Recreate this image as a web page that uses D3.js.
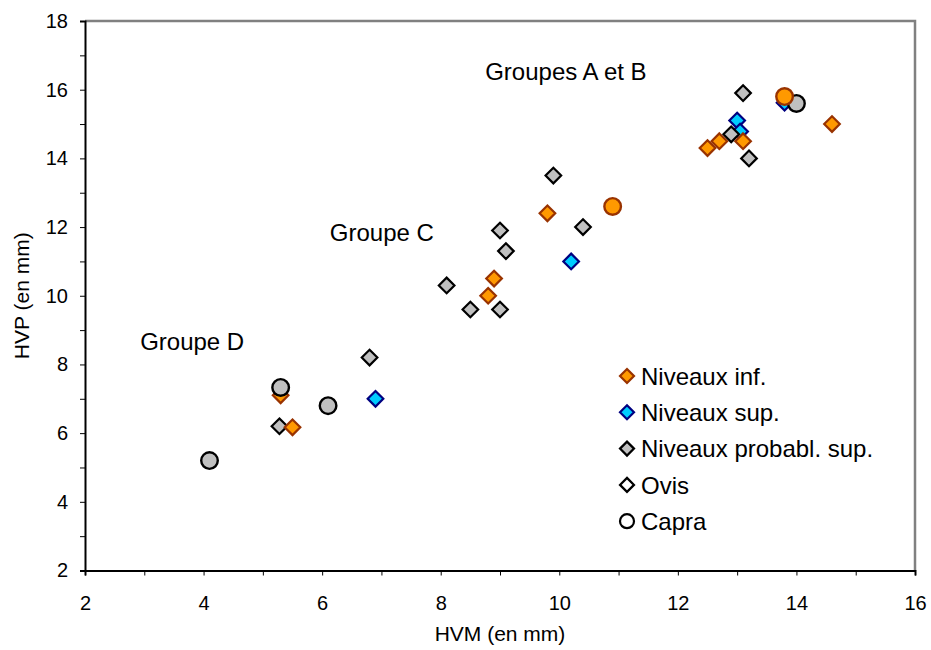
<!DOCTYPE html>
<html>
<head>
<meta charset="utf-8">
<script src="https://d3js.org/d3.v7.min.js"></script>
<style>
  body { margin: 0; background: #fff; }
  svg { font-family: "Liberation Sans", Arial, sans-serif; }
</style>
</head>
<body>
<svg id="chart" width="931" height="650"></svg>
<script>
// ---- Data (HVM = x, HVP = y, in mm) ----
const supHVM  = [6.9, 10.2, 13.0, 13.05, 13.8];
const supHVP  = [7.0, 11.0, 15.1, 14.78, 15.62];

const probHVM = [5.28, 6.8, 8.1, 8.5, 9.0, 9.0, 9.1, 9.9, 10.4, 12.9, 13.1, 13.2];
const probHVP = [6.2, 8.2, 10.3, 9.6, 9.6, 11.9, 11.3, 13.5, 12.0, 14.7, 15.9, 14.0];

const infHVM  = [5.3, 5.5, 8.8, 8.9, 9.8, 12.5, 12.7, 13.1, 14.6];
const infHVP  = [7.1, 6.17, 10.0, 10.5, 12.4, 14.3, 14.5, 14.5, 15.0];

const capraProbHVM = [4.1, 5.3, 6.1, 14.0];
const capraProbHVP = [5.2, 7.33, 6.8, 15.6];

const capraInfHVM = [10.9, 13.8];
const capraInfHVP = [12.6, 15.8];

const xTicks = [2, 4, 6, 8, 10, 12, 14, 16];
const yTicks = [2, 4, 6, 8, 10, 12, 14, 16, 18];

const legendLabels = ["Niveaux inf.", "Niveaux sup.", "Niveaux probabl. sup.", "Ovis", "Capra"];

const annotations = [
  {text: "Groupes A et B", x: 8.75, y: 16.28},
  {text: "Groupe C", x: 6.13, y: 11.6},
  {text: "Groupe D", x: 2.93, y: 8.42}
];

// ---- Styles ----
const styles = {
  inf:  {fill: "#FF9900", stroke: "#993300"},
  sup:  {fill: "#00CCFF", stroke: "#000080"},
  prob: {fill: "#C0C0C0", stroke: "#000000"},
  open: {fill: "#FFFFFF", stroke: "#000000"}
};

const svg = d3.select("#chart");
const L = 85, R = 915, T = 21, B = 570.5;

const x = d3.scaleLinear().domain([2, 16]).range([L, R]);
const y = d3.scaleLinear().domain([2, 18]).range([B, T]);

// frame (top/right grey)
svg.append("path")
  .attr("d", `M${L},${T}H${R}V${B}`)
  .attr("fill", "none").attr("stroke", "#808080").attr("stroke-width", 2.5);

// axes
const xAxis = d3.axisBottom(x).tickValues(d3.range(2, 17, 1)).tickSize(5).tickPadding(20)
  .tickFormat(d => xTicks.includes(d) ? d : "");
const yAxis = d3.axisLeft(y).tickValues(d3.range(2, 19, 1)).tickSize(5).tickPadding(12)
  .tickFormat(d => yTicks.includes(d) ? d : "");

const gx = svg.append("g").attr("transform", `translate(0,${B})`).call(xAxis);
const gy = svg.append("g").attr("transform", `translate(${L},0)`).call(yAxis);
[gx, gy].forEach(g => {
  g.select(".domain").attr("stroke", "#000").attr("stroke-width", 2);
  g.selectAll(".tick line").attr("stroke", "#000").attr("stroke-width", 1);
  g.selectAll("text").attr("font-size", 20).attr("fill", "#000")
    .attr("font-family", "Liberation Sans, Arial, sans-serif");
});

// axis titles
svg.append("text").attr("x", 500).attr("y", 641)
  .attr("text-anchor", "middle").attr("font-size", 21).text("HVM (en mm)");
svg.append("text").attr("transform", `translate(29,${(T + B) / 2}) rotate(-90)`)
  .attr("text-anchor", "middle").attr("font-size", 21).text("HVP (en mm)");

// annotations
svg.selectAll(".annot").data(annotations).enter().append("text")
  .attr("class", "annot")
  .attr("x", d => x(d.x)).attr("y", d => y(d.y))
  .attr("font-size", 24).text(d => d.text);

// markers
const diamond = (s) => `M0,${-s}L${s},0L0,${s}L${-s},0Z`;
const DS = 7.8, CR = 8.3;

function drawDiamonds(xs, ys, st) {
  svg.append("g").selectAll("path").data(xs.map((v, i) => [v, ys[i]])).enter()
    .append("path")
    .attr("transform", d => `translate(${x(d[0])},${y(d[1])})`)
    .attr("d", diamond(DS))
    .attr("fill", st.fill).attr("stroke", st.stroke).attr("stroke-width", 2.2);
}
function drawCircles(xs, ys, st) {
  svg.append("g").selectAll("circle").data(xs.map((v, i) => [v, ys[i]])).enter()
    .append("circle")
    .attr("cx", d => x(d[0])).attr("cy", d => y(d[1])).attr("r", CR)
    .attr("fill", st.fill).attr("stroke", st.stroke).attr("stroke-width", 2.4);
}

drawDiamonds(supHVM, supHVP, styles.sup);
drawDiamonds(probHVM, probHVP, styles.prob);
drawDiamonds(infHVM, infHVP, styles.inf);
drawCircles(capraProbHVM, capraProbHVP, styles.prob);
drawCircles(capraInfHVM, capraInfHVP, styles.inf);

// legend
const legendStyles = [styles.inf, styles.sup, styles.prob, styles.open, styles.open];
const legendShapes = ["d", "d", "d", "d", "c"];
const lg = svg.append("g").attr("transform", "translate(627,376)");
legendLabels.forEach((lab, i) => {
  const row = lg.append("g").attr("transform", `translate(0,${i * 36.3})`);
  if (legendShapes[i] === "d") {
    row.append("path").attr("d", diamond(7))
      .attr("fill", legendStyles[i].fill).attr("stroke", legendStyles[i].stroke).attr("stroke-width", 2.2);
  } else {
    row.append("circle").attr("r", 7)
      .attr("fill", legendStyles[i].fill).attr("stroke", legendStyles[i].stroke).attr("stroke-width", 2.2);
  }
  row.append("text").attr("x", 14).attr("y", 0).attr("dy", "0.36em")
    .attr("font-size", 24).text(lab);
});
</script>
</body>
</html>
